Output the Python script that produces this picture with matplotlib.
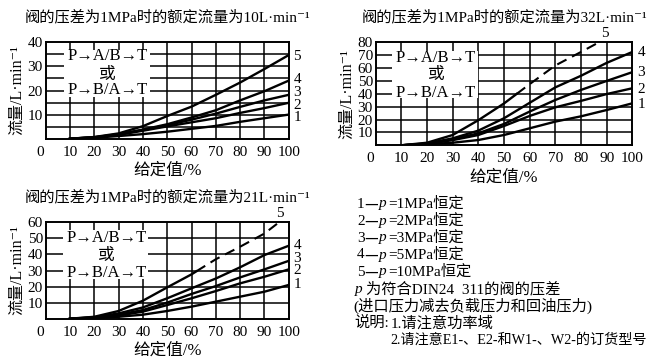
import matplotlib
matplotlib.use('Agg')
import matplotlib.pyplot as plt
from matplotlib.patches import Rectangle
from matplotlib.transforms import ScaledTranslation

plt.rcParams['font.family'] = ['Liberation Serif', 'Noto Sans CJK SC', 'DejaVu Serif']
plt.rcParams['axes.unicode_minus'] = False

# ---------------- data ----------------
x_given = [10, 20, 30, 40, 50, 60, 70, 80, 90, 100]
x_ticks = [0, 10, 20, 30, 40, 50, 60, 70, 80, 90, 100]
x_label = '给定值/%'
y_label = '流量/L·min⁻¹'
box_text = ['P→A/B→T', '或', 'P→B/A→T']
curve_names = ['1', '2', '3', '4', '5']

c1_title = '阀的压差为1MPa时的额定流量为10L·min⁻¹'
c1_ymax = 40
c1_yticks = [10, 20, 30, 40]
c1_ygrid = [5, 10, 15, 20, 25, 30, 35]
c1_curve1 = [0, 0.4, 1.1, 1.9, 2.9, 4.1, 5.3, 7.0, 8.5, 10.0]
c1_curve2 = [0, 0.5, 1.6, 3.3, 5.1, 6.8, 8.5, 10.7, 12.7, 14.9]
c1_curve3 = [0, 0.6, 1.7, 3.6, 5.6, 7.9, 10.4, 13.2, 15.9, 18.2]
c1_curve4 = [0, 0.6, 1.9, 3.8, 6.0, 8.8, 11.8, 15.9, 19.7, 24.1]
c1_curve5 = [0, 0.7, 2.2, 5.2, 9.4, 13.3, 18.2, 23.3, 28.9, 34.7]

c2_title = '阀的压差为1MPa时的额定流量为32L·min⁻¹'
c2_ymax = 80
c2_yticks = [10, 20, 30, 40, 50, 60, 70, 80]
c2_ygrid = [10, 20, 30, 40, 50, 60, 70]
c2_curve1 = [0, 0.8, 2.0, 4.1, 8.0, 13.2, 18.4, 22.5, 27.4, 32.6]
c2_curve2 = [0, 1.0, 4.0, 8.0, 15.0, 22.8, 29.5, 34.5, 39.8, 44.3]
c2_curve3 = [0, 1.2, 4.7, 9.3, 16.6, 26.2, 35.2, 43.0, 50.0, 56.8]
c2_curve4 = [0, 1.5, 5.4, 11.4, 21.0, 33.0, 45.0, 54.0, 64.0, 72.5]
c2_curve5_x = [10, 20, 30, 40, 50, 55]
c2_curve5 = [0, 2.0, 8.0, 19.5, 32.5, 40.0]
c2_curve5_dash_x = [55, 60, 70, 80, 87]
c2_curve5_dash = [40.0, 47.5, 62.0, 72.5, 80.0]

c3_title = '阀的压差为1MPa时的额定流量为21L·min⁻¹'
c3_ymax = 60
c3_yticks = [10, 20, 30, 40, 50, 60]
c3_ygrid = [10, 20, 30, 40, 50]
c3_curve1 = [0, 0.4, 1.2, 2.5, 4.8, 7.5, 10.6, 13.7, 16.8, 21.0]
c3_curve2 = [0, 0.6, 1.9, 4.4, 8.5, 12.7, 17.2, 22.0, 26.1, 30.7]
c3_curve3 = [0, 0.7, 2.5, 5.4, 10.0, 15.4, 20.3, 25.7, 30.7, 36.0]
c3_curve4 = [0, 0.9, 3.3, 7.0, 12.7, 18.9, 25.0, 32.0, 39.6, 45.4]
c3_curve5_x = [10, 20, 30, 40, 50, 60, 62]
c3_curve5 = [0, 1.2, 4.8, 11.2, 19.5, 27.6, 29.5]
c3_curve5_dash_x = [62, 70, 80, 90, 96]
c3_curve5_dash = [29.5, 37.0, 44.8, 53.0, 60.0]

legend_pressures = ['1MPa', '2MPa', '3MPa', '5MPa', '10MPa']
legend_note = '为符合DIN24  311的阀的压差'
legend_paren = '(进口压力减去负载压力和回油压力)'
legend_remark_head = '说明:'
legend_remark_1 = '1.请注意功率域'
legend_remark_2 = '2.请注意E1-、E2-和W1-、W2-的订货型号'

# ---------------- figure ----------------
W, H = 656, 363
fig = plt.figure(figsize=(W / 100, H / 100), dpi=100)


def px_axes(left, top, right, bottom):
    return fig.add_axes([left / W, 1 - bottom / H, (right - left) / W, (bottom - top) / H])


def draw_chart(ax, title, ymax, yticks, ygrid, curves, solid5, dash5,
               box, text_y, text_x, label_y, label5_xy):
    ax.set_xlim(0, 100)
    ax.set_ylim(0, ymax)
    for gx in x_ticks[1:-1]:
        ax.axvline(gx, color='black', lw=1.1, zorder=1)
    for gy in ygrid:
        ax.axhline(gy, color='black', lw=1.1, zorder=1)
    for s in ax.spines.values():
        s.set_linewidth(1.4)
    ax.add_patch(Rectangle((box[0], box[1]), box[2] - box[0], box[3] - box[1],
                           facecolor='white', edgecolor='none', zorder=2))
    for yv in curves:
        ax.plot(x_given, yv, color='black', lw=1.7, zorder=3)
    if solid5 is not None:
        ax.plot(solid5[0], solid5[1], color='black', lw=1.7, zorder=3)
    if dash5 is not None:
        ax.plot(dash5[0], dash5[1], color='black', lw=1.5, zorder=3, dashes=(5, 3))
    ax.set_xticks(x_ticks)
    ax.set_xticklabels([str(v) for v in x_ticks], fontsize=11)
    ax.set_yticks(yticks)
    ax.set_yticklabels([str(v) for v in yticks], fontsize=11)
    ax.tick_params(length=0, pad=2)
    ax.tick_params(axis='x', pad=5)
    lab0 = ax.get_xticklabels()[0]
    lab0.set_transform(lab0.get_transform() + ScaledTranslation(-6 / 100, 0, fig.dpi_scale_trans))
    ax.set_title(title, fontsize=11, pad=15)
    ax.set_xlabel(x_label, fontsize=12, labelpad=3)
    ax.set_ylabel(y_label, fontsize=11.5, labelpad=2)
    for t, yy in zip(box_text, text_y):
        ax.text(text_x, yy, t, ha='center', va='center', fontsize=12, zorder=4)
    for name, ly in zip(curve_names, label_y):
        ax.text(102, ly, name, ha='left', va='center', fontsize=11, clip_on=False)
    if label5_xy is not None:
        ax.text(label5_xy[0], label5_xy[1], '5', ha='center', va='center', fontsize=11,
                clip_on=False)


ax1 = px_axes(45.7, 42.3, 288.7, 138.7)
draw_chart(ax1, c1_title, c1_ymax, c1_yticks, c1_ygrid,
           [c1_curve1, c1_curve2, c1_curve3, c1_curve4, c1_curve5], None, None,
           (7.5, 17.5, 43, 37), [34.3, 26.5, 20], 25.5,
           [8.8, 13.8, 19.0, 24.4, 34.0], None)

ax2 = px_axes(375.7, 42.3, 632.3, 145.3)
draw_chart(ax2, c2_title, c2_ymax, c2_yticks, c2_ygrid,
           [c2_curve1, c2_curve2, c2_curve3, c2_curve4],
           (c2_curve5_x, c2_curve5), (c2_curve5_dash_x, c2_curve5_dash),
           (6.2, 36.5, 40, 73.5), [68, 54.5, 41], 23.5,
           [31.5, 43.5, 56.5, 72.0], (89.5, 87))

ax3 = px_axes(45.7, 222.3, 288.7, 318.7)
draw_chart(ax3, c3_title, c3_ymax, c3_yticks, c3_ygrid,
           [c3_curve1, c3_curve2, c3_curve3, c3_curve4],
           (c3_curve5_x, c3_curve5), (c3_curve5_dash_x, c3_curve5_dash),
           (7.3, 25, 42, 55), [50, 38.8, 28.3], 25,
           [21.0, 30.0, 37.2, 45.4], (96.5, 65.5))

# ---------------- legend / notes ----------------
fig.canvas.draw()
renderer = fig.canvas.get_renderer()
FS = 11
leg_y0 = 204
leg_dy = 17


def put(x, y, txt, fs=FS, **kw):
    t = fig.text(x / W, 1 - y / H, txt, fontsize=fs, ha='left', va='center', **kw)
    return t.get_window_extent(renderer).x1


for i, pr in enumerate(legend_pressures):
    y = leg_y0 + i * leg_dy
    x = put(357, y, str(i + 1))
    x = put(x, y, '—', family=['Noto Sans CJK SC'])
    x = put(x + 1, y, 'p', style='italic')
    x = put(x + 1, y, '=' + pr + '恒定')

y = leg_y0 + 5 * leg_dy
x = put(355, y, 'p', style='italic')
put(x + 3, y, legend_note)
y = leg_y0 + 6 * leg_dy
put(353, y, legend_paren)
y = leg_y0 + 7 * leg_dy
x = put(354, y, legend_remark_head)
x1 = x + 2
put(x1, y, legend_remark_1)
y = leg_y0 + 8 * leg_dy
put(x1, y, legend_remark_2, fs=10.2)

fig.savefig('out.png', dpi=100)
